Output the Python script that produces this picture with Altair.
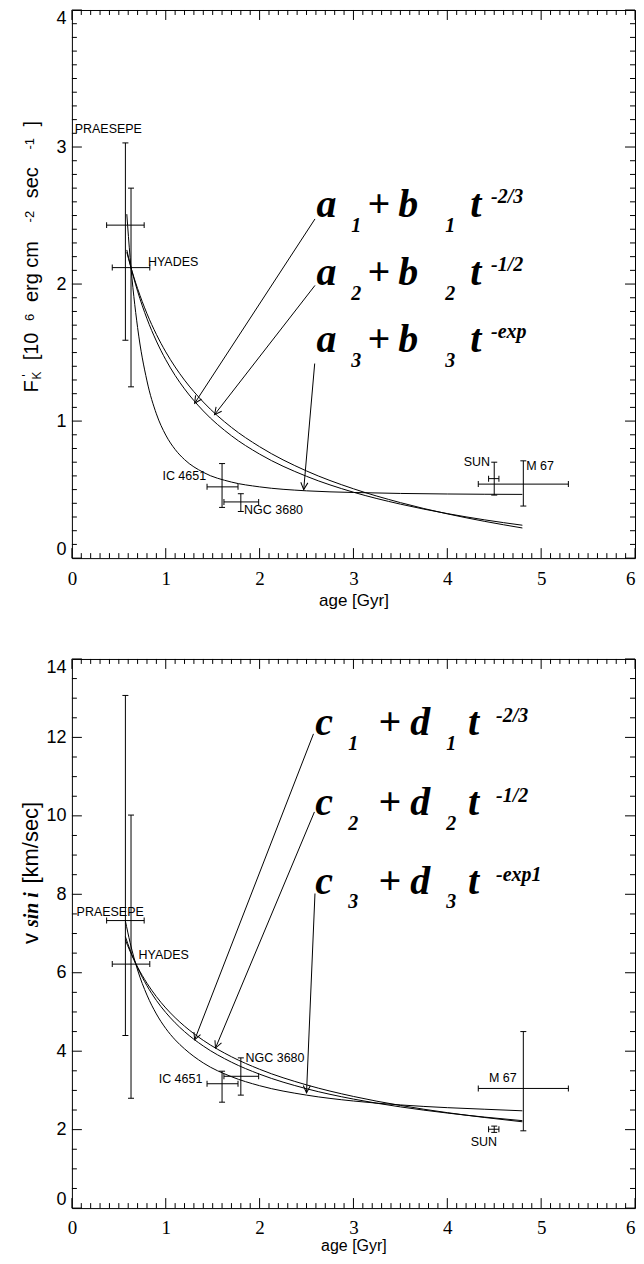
import math
import altair as alt
import pandas as pd

SANS = "Liberation Sans"
SERIF = "Liberation Serif"
W = 564
H_TOP, H_BOT = 549, 550

# ---------------- data ----------------
clusters = ["PRAESEPE", "HYADES", "IC 4651", "NGC 3680", "SUN", "M 67"]
age = [0.57, 0.63, 1.60, 1.80, 4.50, 4.81]
age_lo = [0.37, 0.43, 1.44, 1.62, 4.44, 4.33]
age_hi = [0.77, 0.83, 1.77, 1.99, 4.55, 5.29]

flux = [2.43, 2.12, 0.52, 0.41, 0.58, 0.54]
flux_lo = [1.59, 1.25, 0.37, 0.34, 0.46, 0.38]
flux_hi = [3.03, 2.70, 0.69, 0.47, 0.70, 0.71]

vsini = [7.33, 6.22, 3.17, 3.36, 2.01, 3.05]
vsini_lo = [4.40, 2.80, 2.70, 2.88, 1.93, 1.97]
vsini_hi = [13.07, 10.02, 3.49, 3.83, 2.09, 4.50]

flux_label_x = [0.03, 0.81, 1.43, 1.835, 4.455, 4.84]
flux_label_y = [3.135, 2.16, 0.60, 0.35, 0.705, 0.67]
flux_label_align = ["left", "left", "right", "left", "right", "left"]

vsini_label_x = [0.05, 0.71, 1.39, 1.85, 4.39, 4.74]
vsini_label_y = [7.56, 6.44, 3.28, 3.82, 1.69, 3.32]
vsini_label_align = ["left", "left", "right", "left", "center", "right"]

fit_t_flux = [0.585, 0.62, 0.70, 0.80, 0.90, 1.0, 1.1, 1.2, 1.4, 1.7, 2.0, 2.5, 3.0, 3.5, 4.0, 4.4, 4.8]
flux_fit_23 = [2.249, 2.147, 1.948, 1.747, 1.584, 1.448, 1.333, 1.235, 1.074, 0.893, 0.759, 0.597, 0.481, 0.394, 0.325, 0.279, 0.240]
flux_fit_12 = [2.232, 2.143, 1.967, 1.784, 1.633, 1.505, 1.395, 1.299, 1.139, 0.954, 0.813, 0.636, 0.506, 0.405, 0.323, 0.268, 0.220]
flux_fit_exp = [2.510, 2.195, 1.683, 1.293, 1.053, 0.898, 0.793, 0.719, 0.626, 0.555, 0.520, 0.491, 0.479, 0.472, 0.468, 0.466, 0.465]

fit_t_vsini = [0.57, 0.62, 0.70, 0.80, 0.90, 1.0, 1.1, 1.2, 1.4, 1.7, 2.0, 2.5, 3.0, 3.5, 4.0, 4.4, 4.8]
vsini_fit_23 = [6.92, 6.581, 6.127, 5.668, 5.295, 4.986, 4.724, 4.499, 4.132, 3.720, 3.414, 3.043, 2.779, 2.580, 2.423, 2.319, 2.229]
vsini_fit_12 = [6.836, 6.545, 6.145, 5.733, 5.392, 5.103, 4.855, 4.638, 4.276, 3.859, 3.539, 3.141, 2.846, 2.617, 2.433, 2.309, 2.200]
vsini_fit_exp = [7.32, 6.77, 6.07, 5.43, 4.95, 4.58, 4.29, 4.06, 3.70, 3.35, 3.12, 2.88, 2.73, 2.63, 2.56, 2.52, 2.48]

flux_arrow = {"x1": [2.59, 2.59, 2.587], "y1": [2.475, 1.99, 1.42],
              "x2": [1.308, 1.52, 2.47], "y2": [1.13, 1.047, 0.50]}
vsini_arrow = {"x1": [2.574, 2.584, 2.59], "y1": [12.09, 10.10, 8.02],
               "x2": [1.308, 1.53, 2.50], "y2": [4.29, 4.08, 2.94]}

flux_formula_x = [2.605, 2.605, 2.605]
flux_formula_y = [2.487, 1.993, 1.505]
flux_formula_sup = ["-2/3", "-1/2", "-exp"]
vsini_formula_x = [2.594, 2.594, 2.594]
vsini_formula_y = [12.06, 10.03, 8.02]
vsini_formula_sup = ["-2/3", "-1/2", "-exp1"]
formula_sub = ["1", "2", "3"]

x_major = [0, 1, 2, 3, 4, 5, 6]
x_minor = [i / 10 for i in range(61) if i % 10]
flux_major = [0, 1, 2, 3, 4]
flux_minor = [i / 10 for i in range(41) if i % 10]
vsini_major = [0, 2, 4, 6, 8, 10, 12, 14]
vsini_minor = [i / 2 for i in range(29) if i % 4]


def panel(H, yv, ylo, yhi, ydom, ymaj, ymin, lx, ly, lal, fit_t, fits, arrows,
          fx, fy, letters, fdx, sups, sdx, sup_dy, ytitle, lpad, tpad, tsize):
    xs = alt.Scale(domain=[0, 6], nice=False, zero=False)
    ys = alt.Scale(domain=ydom, nice=False, zero=False)
    xax = alt.Axis(values=x_major, format="d", labelFont=SERIF, labelFontSize=19,
                   labelColor="black", ticks=False, domain=False, grid=False,
                   labelPadding=lpad, labelFlush=False, labelOverlap=False,
                   labelAlign={"condition": {"test": "datum.value == 6", "value": "right"},
                               "value": "center"},
                   title="age [Gyr]", titleFont=SANS, titleFontSize=tsize,
                   titleFontWeight="normal", titleColor="black", titlePadding=tpad)
    yax = alt.Axis(values=ymaj, format="d", labelFont=SANS, labelFontSize=18,
                   labelColor="black", ticks=False, domain=False, grid=False,
                   labelPadding=6, labelFlush=True, labelOverlap=False, title=None)

    def X(f):
        return alt.X(f, type="quantitative", scale=xs, axis=xax)

    def Y(f):
        return alt.Y(f, type="quantitative", scale=ys, axis=yax)

    layers = []
    rows = []
    for ci, vals in enumerate(fits):
        for t, v in zip(fit_t, vals):
            rows.append({"t": t, "v": v, "c": ci})
    layers.append(alt.Chart(pd.DataFrame(rows)).mark_line(
        color="black", strokeWidth=1, interpolate="monotone").encode(
        x=X("t"), y=Y("v"), detail="c:N"))

    pts = pd.DataFrame({"name": clusters, "age": age, "alo": age_lo, "ahi": age_hi,
                        "v": yv, "vlo": ylo, "vhi": yhi})
    layers.append(alt.Chart(pts).mark_rule(color="black", strokeWidth=1).encode(
        x=X("age"), y=Y("vlo"), y2="vhi"))
    layers.append(alt.Chart(pts).mark_rule(color="black", strokeWidth=1).encode(
        x=X("alo"), x2="ahi", y=Y("v")))
    vcap = pd.DataFrame({"x": age + age, "y": ylo + yhi})
    layers.append(alt.Chart(vcap).mark_tick(orient="horizontal", size=6, thickness=1,
                                            color="black", opacity=1).encode(
        x=X("x"), y=Y("y")))
    hcap = pd.DataFrame({"x": age_lo + age_hi, "y": yv + yv})
    layers.append(alt.Chart(hcap).mark_tick(orient="vertical", size=6, thickness=1,
                                            color="black", opacity=1).encode(
        x=X("x"), y=Y("y")))

    lab = pd.DataFrame({"name": clusters, "x": lx, "y": ly, "al": lal})
    for al in ["left", "right", "center"]:
        sub = lab[lab["al"] == al]
        if len(sub):
            layers.append(alt.Chart(sub).mark_text(
                align=al, baseline="middle", font=SANS, fontSize=12.5, color="black").encode(
                x=X("x"), y=Y("y"), text="name:N"))

    big_a, big_b = letters
    pieces = [([big_a] * 3, fdx[0], 0, 40), (formula_sub, fdx[1], 15, 20),
              (["+"] * 3, fdx[2], 0, 40), ([big_b] * 3, fdx[3], 0, 40),
              (formula_sub, fdx[4], 15, 20), (["t"] * 3, fdx[5], 0, 40),
              (sups, sdx, sup_dy, 20)]
    for texts, dx, dy, size in pieces:
        df = pd.DataFrame({"x": fx, "y": fy, "t": texts})
        layers.append(alt.Chart(df).mark_text(
            align="left", baseline="alphabetic", dx=dx, dy=dy, font=SERIF,
            fontSize=size, fontStyle="italic", fontWeight="bold", color="black").encode(
            x=X("x"), y=Y("y"), text="t:N"))

    ad = pd.DataFrame(arrows)
    sx = W / 6.0
    sy = H / (ydom[1] - ydom[0])
    ad["ang"] = [math.degrees(math.atan2(-(b - a) * sx, -(d - c) * sy)) % 360
                 for a, b, c, d in zip(ad["x1"], ad["x2"], ad["y1"], ad["y2"])]
    layers.append(alt.Chart(ad).mark_rule(color="black", strokeWidth=1).encode(
        x=X("x1"), y=Y("y1"), x2="x2", y2="y2"))
    layers.append(alt.Chart(ad).mark_point(
        shape="M-0.5,-1L0,0L0.5,-1", filled=False, size=200, color="black",
        strokeWidth=1, opacity=1).encode(
        x=X("x2"), y=Y("y2"), angle=alt.Angle("ang:Q", scale=None)))

    def tk(vals, side, ln):
        d = pd.DataFrame({"v": vals})
        m = alt.Chart(d).mark_rule(color="black", strokeWidth=1)
        if side == "bottom":
            return m.encode(x=X("v"), y=alt.value(H), y2=alt.value(H - ln))
        if side == "top":
            return m.encode(x=X("v"), y=alt.value(0), y2=alt.value(ln))
        if side == "left":
            return m.encode(y=Y("v"), x=alt.value(0), x2=alt.value(ln))
        return m.encode(y=Y("v"), x=alt.value(W), x2=alt.value(W - ln))

    for side in ["bottom", "top"]:
        layers.append(tk(x_major, side, 10))
        layers.append(tk(x_minor, side, 5))
    for side in ["left", "right"]:
        layers.append(tk(ymaj, side, 10))
        layers.append(tk(ymin, side, 5))

    for txt, x, y, size, font, style in ytitle:
        layers.append(alt.Chart(pd.DataFrame({"t": [txt]})).mark_text(
            angle=270, align="center", baseline="alphabetic", font=font, fontSize=size,
            fontStyle=style, fontWeight="bold" if style == "italic" else "normal",
            color="black").encode(text="t:N", x=alt.value(x), y=alt.value(y)))

    return alt.layer(*layers).properties(width=W, height=H)


flux_title = [("F", -34, 377, 20, SANS, "normal"),
              ("'", -41, 366, 13, SANS, "normal"),
              ("K", -31, 366, 12, SANS, "normal"),
              ("[10", -34, 337, 20, SANS, "normal"),
              ("6", -38, 308, 13, SANS, "normal"),
              ("erg cm", -34, 262, 20, SANS, "normal"),
              ("-2", -38, 207, 13, SANS, "normal"),
              ("sec", -34, 173, 20, SANS, "normal"),
              ("-1", -38, 134, 13, SANS, "normal"),
              ("]", -34, 114, 20, SANS, "normal")]

vsini_title = [("v", -34, 280, 22, SANS, "normal"),
               ("sin i", -34, 251, 20, SERIF, "italic"),
               ("[km/sec]", -34, 184, 22, SANS, "normal")]

top = panel(H_TOP, flux, flux_lo, flux_hi, [0, 4], flux_major, flux_minor,
            flux_label_x, flux_label_y, flux_label_align, fit_t_flux,
            [flux_fit_23, flux_fit_12, flux_fit_exp], flux_arrow,
            flux_formula_x, flux_formula_y, ("a", "b"),
            [0, 35, 51, 82, 129, 154], flux_formula_sup, 175, -14, flux_title,
            11, 4, 17)

bottom = panel(H_BOT, vsini, vsini_lo, vsini_hi, [0, 14], vsini_major, vsini_minor,
               vsini_label_x, vsini_label_y, vsini_label_align, fit_t_vsini,
               [vsini_fit_23, vsini_fit_12, vsini_fit_exp], vsini_arrow,
               vsini_formula_x, vsini_formula_y, ("c", "d"),
               [0, 33, 63, 95, 131, 153], vsini_formula_sup, 181, -13, vsini_title,
               10, 0, 16)

chart = alt.vconcat(top, bottom, spacing=49).properties(
    padding={"left": 11, "top": 0, "right": 0, "bottom": 0},
    background="white").configure_view(stroke="black", strokeWidth=1)

chart.save("out.html", embed_options={"renderer": "svg", "actions": False})
